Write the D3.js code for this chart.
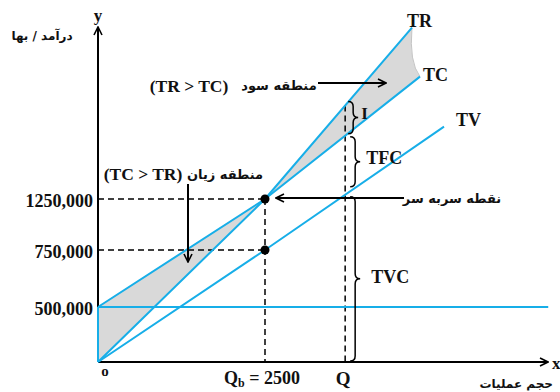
<!DOCTYPE html>
<html><head><meta charset="utf-8">
<script src="https://cdn.jsdelivr.net/npm/d3@7/dist/d3.min.js"></script>
<style>
body{margin:0;background:#fff;}
svg{display:block;}
.lat{font-family:"Liberation Serif","Times New Roman",serif;font-weight:bold;fill:#111;}
.fa{font-family:"DejaVu Sans","Noto Sans",sans-serif;font-weight:bold;fill:#111;}
</style>
</head><body>
<svg id="c" width="560" height="392"></svg>
<script>
// ---- data ----
const yTickValues = [500000, 750000, 1250000];
const yTickLabels = ["500,000", "750,000", "1250,000"];
const breakEvenQ = 2500;
const breakEvenRevenue = 1250000;
const breakEvenVariable = 750000;
const fixedCost = 500000;
const Q = 3700;
const xMax = 6740;
const trPoints = [[0, 0], [2500, 1250000], [4700, 2930000]];
const tcPoints = [[0, 500000], [2500, 1250000], [4820, 2450000]];
const tvPoints = [[0, 0], [2500, 750000], [5180, 1960000]];
const tfcPoints = [[0, 500000], [6740, 500000]];
const seriesLabels = ["TR", "TC", "TV"];

// ---- scales ----
const x = d3.scaleLinear().domain([0, 2500]).range([98, 265]);
const y = d3.scaleLinear().domain([0, 500000, 750000, 1250000]).range([362, 307, 250, 199]);

const svg = d3.select("#c");
const blue = "#17aee8";
const line = d3.line().x(d => x(d[0])).y(d => y(d[1]));

function valAt(pts, q) {
  for (let i = 0; i < pts.length - 1; i++) {
    const a = pts[i], b = pts[i + 1];
    if (q >= a[0] && q <= b[0]) return a[1] + (b[1] - a[1]) * (q - a[0]) / (b[0] - a[0]);
  }
  return pts[pts.length - 1][1];
}

// markers
const defs = svg.append("defs");
defs.append("marker").attr("id", "arr").attr("viewBox", "0 0 10 10")
  .attr("refX", 9).attr("refY", 5).attr("markerWidth", 10).attr("markerHeight", 10)
  .attr("markerUnits", "userSpaceOnUse").attr("orient", "auto")
  .append("path").attr("d", "M1,1 L9,5 L1,9").attr("fill", "none").attr("stroke", "#000").attr("stroke-width", 1.6);

// ---- shaded regions ----
const lossPoly = [[0, tcPoints[0][1]], [breakEvenQ, breakEvenRevenue], [0, 0]];
svg.append("path").attr("d", line(lossPoly) + "Z").attr("fill", "#d9d9d9").attr("stroke", "none");
const trEnd = trPoints[2], tcEnd = tcPoints[2];
const cx = x(trEnd[0]) - 3, cy = (y(trEnd[1]) + y(tcEnd[1])) / 2 + 10;
svg.append("path")
  .attr("d", `M${x(breakEvenQ)},${y(breakEvenRevenue)} L${x(trEnd[0])},${y(trEnd[1])} Q${cx},${cy} ${x(tcEnd[0])},${y(tcEnd[1])} Z`)
  .attr("fill", "#d9d9d9").attr("stroke", "none");
svg.append("path")
  .attr("d", `M${x(trEnd[0])},${y(trEnd[1])} Q${cx},${cy} ${x(tcEnd[0])},${y(tcEnd[1])}`)
  .attr("fill", "none").attr("stroke", "#c4c4c4").attr("stroke-width", 1);

// ---- dashed guides ----
const dash = "6,4";
svg.append("line").attr("x1", x(0)).attr("x2", x(breakEvenQ)).attr("y1", y(breakEvenRevenue)).attr("y2", y(breakEvenRevenue))
  .attr("stroke", "#000").attr("stroke-width", 1.5).attr("stroke-dasharray", dash);
svg.append("line").attr("x1", x(0)).attr("x2", x(breakEvenQ)).attr("y1", y(breakEvenVariable)).attr("y2", y(breakEvenVariable))
  .attr("stroke", "#000").attr("stroke-width", 1.5).attr("stroke-dasharray", dash);
svg.append("line").attr("x1", x(breakEvenQ)).attr("x2", x(breakEvenQ)).attr("y1", y(breakEvenRevenue)).attr("y2", y(0))
  .attr("stroke", "#000").attr("stroke-width", 1.5).attr("stroke-dasharray", dash);
svg.append("line").attr("x1", x(Q)).attr("x2", x(Q)).attr("y1", y(valAt(trPoints, Q))).attr("y2", y(0))
  .attr("stroke", "#000").attr("stroke-width", 1.5).attr("stroke-dasharray", dash);

// ---- axes ----
svg.append("line").attr("x1", x(0)).attr("x2", x(0)).attr("y1", y(0)).attr("y2", 27)
  .attr("stroke", "#000").attr("stroke-width", 2).attr("marker-end", "url(#arr)");
svg.append("line").attr("x1", x(0)).attr("x2", 548).attr("y1", y(0)).attr("y2", y(0))
  .attr("stroke", "#000").attr("stroke-width", 2).attr("marker-end", "url(#arr)");

const yAxis = d3.axisLeft(y).tickValues(yTickValues).tickFormat((d, i) => yTickLabels[i]).tickSize(0).tickPadding(5);
const gy = svg.append("g").attr("transform", `translate(${x(0)},0)`).call(yAxis);
gy.select(".domain").remove();
gy.selectAll("text").attr("class", "lat").attr("font-size", 18).attr("dy", "0.42em");

// ---- cost / revenue lines ----
svg.append("path").attr("d", line(tfcPoints)).attr("fill", "none").attr("stroke", blue).attr("stroke-width", 2);
svg.append("line").attr("x1", x(0)).attr("x2", x(0)).attr("y1", y(fixedCost)).attr("y2", y(0)).attr("stroke", blue).attr("stroke-width", 2);
[trPoints, tcPoints, tvPoints].forEach(p => {
  svg.append("path").attr("d", line(p)).attr("fill", "none").attr("stroke", blue).attr("stroke-width", 2);
});

// series labels
const lblOff = [[-5, -1], [3, 4], [12, -1]];
[trPoints, tcPoints, tvPoints].forEach((p, i) => {
  const e = p[p.length - 1];
  svg.append("text").attr("class", "lat").attr("font-size", 18)
    .attr("x", x(e[0]) + lblOff[i][0]).attr("y", y(e[1]) + lblOff[i][1]).text(seriesLabels[i]);
});

// dots
[[breakEvenQ, breakEvenRevenue], [breakEvenQ, breakEvenVariable]].forEach(d => {
  svg.append("circle").attr("cx", x(d[0])).attr("cy", y(d[1])).attr("r", 4.5).attr("fill", "#000");
});

// ---- braces ----
function brace(xx, y1, y2, w) {
  const ym = (y1 + y2) / 2, q = w / 2, r = Math.min(5, (y2 - y1) / 4);
  return `M${xx},${y1} Q${xx + q},${y1} ${xx + q},${y1 + r} L${xx + q},${ym - r} Q${xx + q},${ym} ${xx + w},${ym} Q${xx + q},${ym} ${xx + q},${ym + r} L${xx + q},${y2 - r} Q${xx + q},${y2} ${xx},${y2}`;
}
const bx = x(Q) + 5;
const yTR = y(valAt(trPoints, Q)), yTC = y(valAt(tcPoints, Q)), yTV = y(valAt(tvPoints, Q)), y0 = y(0);
svg.append("path").attr("d", brace(bx - 2, yTR - 4, yTC - 2, 10)).attr("fill", "none").attr("stroke", "#000").attr("stroke-width", 1.5);
svg.append("path").attr("d", brace(bx, yTC + 1, yTV - 8, 10)).attr("fill", "none").attr("stroke", "#000").attr("stroke-width", 1.5);
svg.append("path").attr("d", brace(bx, yTV + 2, y0 - 1, 10)).attr("fill", "none").attr("stroke", "#000").attr("stroke-width", 1.5);
svg.append("text").attr("class", "lat").attr("font-size", 17).attr("x", bx + 11).attr("y", (yTR + yTC) / 2 - 2).text("I");
svg.append("text").attr("class", "lat").attr("font-size", 18).attr("x", bx + 16).attr("y", (yTC + yTV) / 2 - 1).text("TFC");
svg.append("text").attr("class", "lat").attr("font-size", 18).attr("x", bx + 21).attr("y", (yTV + y0) / 2 + 5).text("TVC");

// ---- annotation arrows ----
svg.append("line").attr("x1", 404).attr("x2", x(breakEvenQ) + 11).attr("y1", y(breakEvenRevenue) - 1).attr("y2", y(breakEvenRevenue) - 1)
  .attr("stroke", "#000").attr("stroke-width", 2).attr("marker-end", "url(#arr)");
svg.append("line").attr("x1", 318).attr("x2", 386).attr("y1", 83).attr("y2", 83)
  .attr("stroke", "#000").attr("stroke-width", 2).attr("marker-end", "url(#arr)");
svg.append("line").attr("x1", 188).attr("x2", 188).attr("y1", 184).attr("y2", 262)
  .attr("stroke", "#000").attr("stroke-width", 2).attr("marker-end", "url(#arr)");

// ---- texts ----
svg.append("text").attr("class", "lat").attr("font-size", 17.5).attr("text-anchor", "middle").attr("x", 189).attr("y", 92).text("(TR > TC)");
svg.append("text").attr("class", "fa").attr("font-size", 13).attr("text-anchor", "middle").attr("x", 279).attr("y", 90).text("منطقه سود");
svg.append("text").attr("class", "lat").attr("font-size", 17.5).attr("text-anchor", "middle").attr("x", 143).attr("y", 180).text("(TC > TR)");
svg.append("text").attr("class", "fa").attr("font-size", 13).attr("text-anchor", "middle").attr("x", 225).attr("y", 179).text("منطقه زیان");
svg.append("text").attr("class", "fa").attr("font-size", 13).attr("text-anchor", "middle").attr("x", 452).attr("y", 203).text("نقطه سربه سر");
svg.append("text").attr("class", "fa").attr("font-size", 12).attr("text-anchor", "middle").attr("x", 42).attr("y", 40).text("درآمد / بها");
svg.append("text").attr("class", "fa").attr("font-size", 12).attr("text-anchor", "end").attr("x", 553).attr("y", 388).text("حجم عملیات");
svg.append("text").attr("class", "lat").attr("font-size", 17).attr("text-anchor", "middle").attr("x", x(0)).attr("y", 21).text("y");
svg.append("text").attr("class", "lat").attr("font-size", 17).attr("x", 552).attr("y", 369).text("x");
svg.append("text").attr("class", "lat").attr("font-size", 15).attr("text-anchor", "middle").attr("x", x(0) + 7).attr("y", 376).text("o");
const qb = svg.append("text").attr("class", "lat").attr("font-size", 18).attr("text-anchor", "middle").attr("x", x(breakEvenQ) - 3).attr("y", 384);
qb.append("tspan").text("Q");
qb.append("tspan").attr("font-size", 12).attr("dy", 3).text("b");
qb.append("tspan").attr("dy", -3).text(" = 2500");
svg.append("text").attr("class", "lat").attr("font-size", 19).attr("text-anchor", "middle").attr("x", x(Q) - 2).attr("y", 385).text("Q");
</script>
</body></html>
